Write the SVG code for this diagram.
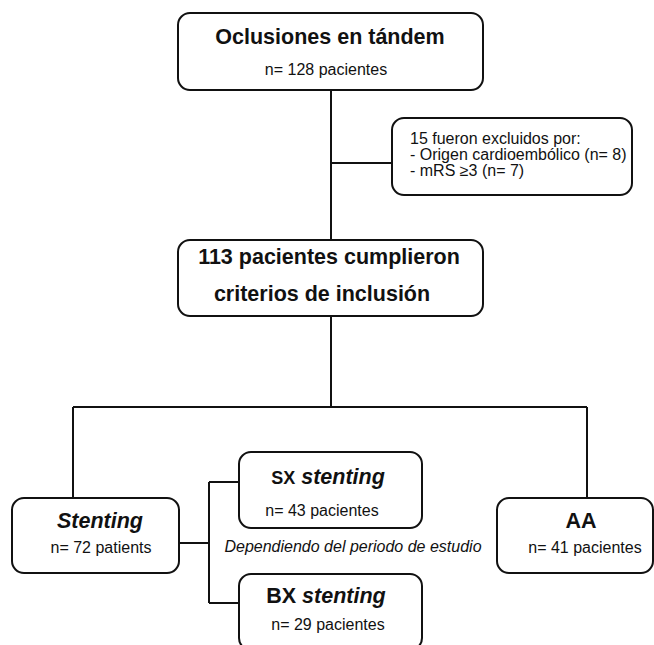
<svg xmlns="http://www.w3.org/2000/svg" width="654" height="645" viewBox="0 0 654 645">
<style>
.box{fill:#fff;stroke:#111;stroke-width:2}
.ln{fill:none;stroke:#111;stroke-width:2}
text{font-family:"Liberation Sans",Arial,sans-serif;fill:#111}
.t{font-size:21.5px;font-weight:bold;text-anchor:middle}
.s{font-size:16px;text-anchor:middle}
.e{font-size:16px}
.i{font-style:italic}
</style>
<rect width="654" height="645" fill="#fff"/>
<g id="connectors">
<path class="ln" d="M331 90V240M331 163H392M331 316V407M73 407H587M73 407V498M587 407V498M179 543H209M209 482V603M209 482H239M209 603H239"/>
</g>
<g id="n1">
<rect class="box" x="178" y="13" width="305" height="77" rx="12"/>
<text class="t" x="330" y="44">Oclusiones en tándem</text>
<text class="s" x="326" y="75">n= 128 pacientes</text>
</g>
<g id="excl">
<rect class="box" x="392" y="118" width="240" height="77" rx="12"/>
<text class="e" x="410" y="144">15 fueron excluidos por:</text>
<text class="e" x="410" y="160">- Origen cardioembólico (n= 8)</text>
<text class="e" x="410" y="176">- mRS ≥3 (n= 7)</text>
</g>
<g id="n2">
<rect class="box" x="178" y="240" width="305" height="76" rx="12"/>
<text class="t" x="329" y="264">113 pacientes cumplieron</text>
<text class="t" x="322" y="301">criterios de inclusión</text>
</g>
<g id="stenting">
<rect class="box" x="12" y="498" width="167" height="75" rx="12"/>
<text class="t i" x="100" y="528">Stenting</text>
<text class="s" x="101" y="553">n= 72 patients</text>
</g>
<g id="sx">
<rect class="box" x="239" y="452" width="183" height="76" rx="12"/>
<text class="t" x="328" y="484"><tspan font-size="18">SX</tspan> <tspan font-style="italic">stenting</tspan></text>
<text class="s" x="322" y="516">n= 43 pacientes</text>
</g>
<text class="s i" x="353" y="552">Dependiendo del periodo de estudio</text>
<g id="bx">
<rect class="box" x="239" y="574" width="183" height="76" rx="12"/>
<text class="t" x="326" y="603">BX <tspan font-style="italic">stenting</tspan></text>
<text class="s" x="328" y="630">n= 29 pacientes</text>
</g>
<g id="aa">
<rect class="box" x="497" y="498" width="156" height="75" rx="12"/>
<text class="t" x="581" y="528">AA</text>
<text class="s" x="585" y="553">n= 41 pacientes</text>
</g>
</svg>
